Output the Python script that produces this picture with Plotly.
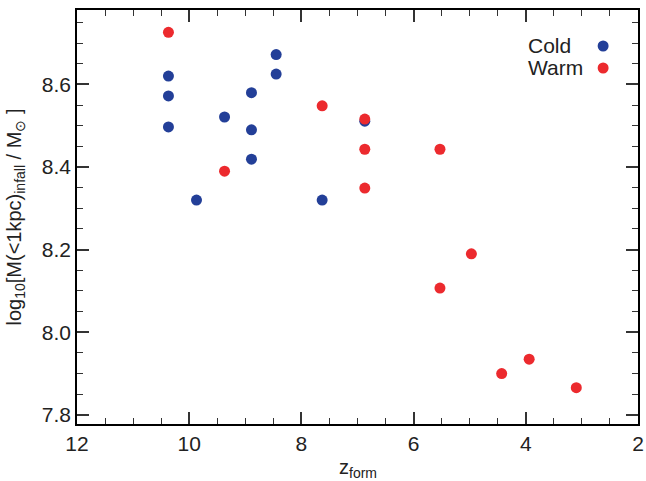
import plotly.graph_objects as go

cold_z = [10.37, 10.37, 10.37, 9.37, 8.89, 8.89, 8.89, 8.45, 8.45, 9.87, 7.63, 6.87]
cold_m = [8.620, 8.572, 8.497, 8.521, 8.580, 8.490, 8.419, 8.672, 8.625, 8.320, 8.320, 8.511]
warm_z = [10.37, 9.37, 7.63, 6.87, 6.87, 6.87, 5.53, 5.53, 4.97, 4.43, 3.94, 3.10]
warm_m = [8.726, 8.390, 8.548, 8.516, 8.443, 8.349, 8.443, 8.107, 8.190, 7.900, 7.935, 7.866]
legend_names = ["Cold", "Warm"]
blue = "#233F98"
red = "#EC2A2E"

fig = go.Figure()
fig.add_trace(go.Scatter(x=cold_z, y=cold_m, mode="markers", name=legend_names[0],
                         marker=dict(color=blue, size=11)))
fig.add_trace(go.Scatter(x=warm_z, y=warm_m, mode="markers", name=legend_names[1],
                         marker=dict(color=red, size=11)))

font = "Liberation Sans"

fig.update_xaxes(range=[12, 2], ticks="inside", ticklen=12, tickwidth=1.5, tickcolor="#333333",
                 showline=True, linecolor="black", linewidth=1.5, mirror="allticks",
                 dtick=2, showgrid=False, zeroline=False, automargin=False,
                 tickfont=dict(family=font, size=21, color="#222222"),
                 minor=dict(dtick=0.5, ticks="inside", ticklen=6, tickwidth=1.2, tickcolor="#333333"))
fig.update_yaxes(range=[7.778, 8.78], ticks="inside", ticklen=12, tickwidth=1.5, tickcolor="#333333",
                 showline=True, linecolor="black", linewidth=1.5, mirror="allticks",
                 dtick=0.2, tickformat=".1f", showgrid=False, zeroline=False,
                 tickfont=dict(family=font, size=21, color="#222222"),
                 minor=dict(dtick=0.05, ticks="inside", ticklen=6, tickwidth=1.2, tickcolor="#333333"),
                 title=dict(text="log<sub>10</sub>[M(&lt;1kpc)<sub>infall</sub> / M<sub>⊙</sub> ]",
                            font=dict(family=font, size=20, color="#222222")))

pw, ph = 563, 414
# x-axis title
fig.add_annotation(x=0.5, y=-(468 - 424) / ph, xref="paper", yref="paper",
                   text="z<sub>form</sub>", showarrow=False, xanchor="center", yanchor="middle",
                   font=dict(family=font, size=20, color="#222222"))

for i, (name, col) in enumerate(zip(legend_names, [blue, red])):
    yp = 1 - (46 + 22 * i - 10) / ph
    xp = (605 - 77) / pw
    fig.add_annotation(x=(528 - 77) / pw, y=yp, xref="paper", yref="paper", text=name,
                       showarrow=False, xanchor="left", yanchor="middle",
                       font=dict(family=font, size=21, color="#222222"))
    fig.add_shape(type="circle", xref="paper", yref="paper",
                  x0=xp - 5.5 / pw, x1=xp + 5.5 / pw, y0=yp - 5.5 / ph, y1=yp + 5.5 / ph,
                  fillcolor=col, line=dict(width=0))

fig.update_layout(width=646, height=481, margin=dict(l=77, r=6, t=10, b=57),
                  plot_bgcolor="white", showlegend=False)
fig.write_html("out.html")
